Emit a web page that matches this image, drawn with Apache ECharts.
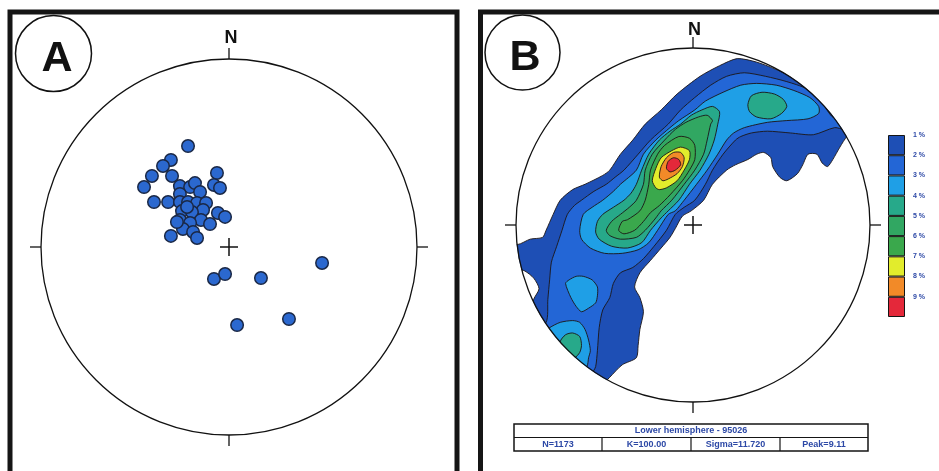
<!DOCTYPE html>
<html>
<head>
<meta charset="utf-8">
<script src="https://cdn.jsdelivr.net/npm/echarts@6/dist/echarts.min.js"></script>
<style>
html,body{margin:0;padding:0;background:#fff}
#main{width:939px;height:471px}
</style>
</head>
<body>
<div id="main"></div>
<script>
// stereonet units: primitive circle radius = 100, x east, y north

// panel A - poles
var polesA = [[-21.8,53.7],[-30.9,46.3],[-35.1,43.1],[-41.0,37.8],[-45.2,31.9],[-30.3,37.8],[-6.4,39.4],[-8.0,33.0],
  [-4.8,31.4],[-26.1,32.4],[-20.7,31.9],[-18.1,34.0],[-15.4,29.3],[-26.1,28.2],[-39.9,23.9],[-32.4,23.9],
  [-26.1,23.9],[-21.8,23.9],[-17.0,23.4],[-12.2,23.4],[-13.8,19.7],[-25.0,19.1],[-19.7,18.6],[-5.9,18.1],
  [-2.1,16.0],[-26.1,14.4],[-14.9,14.4],[-10.1,12.2],[-20.7,12.8],[-24.5,9.6],[-19.1,8.0],[-17.0,4.8],
  [-30.9,5.9],[-27.7,13.3],[-22.3,21.3],[-8.0,-17.0],[-2.1,-14.4],[17.0,-16.5],[49.5,-8.5],[31.9,-38.3],[4.3,-41.5]];

// panel B - density contours (rings per level)
var level1 = [[[-53,-92],[-75,-75],[-92,-53],[-90,-42],[-87,-36],[-90,-30],[-95,-26],[-103,-23],[-106,-9],[-99,-11],
  [-92,-8],[-85,-7],[-83,-3],[-79,6],[-75,14],[-68,20],[-61,23],[-51,28],[-47,31],[-41,40],[-34,48],[-27,57],
  [-18,65],[-9,74],[4,84],[15,90],[25,94],[36,92],[49,87],[60,81],[81,68],[92,53],[87,50],[83,44],[79,37],[76,33],
  [73,35],[70,40],[65,40],[62,34],[59,29],[53,25],[49,27],[45,33],[44,38],[40,41],[36,40],[31,37],[24,34],[19,31],
  [11,23],[6,14],[-1,8],[-6,5],[-10,-2],[-13,-7],[-18,-13],[-24,-20],[-30,-27],[-33,-35],[-30,-41],[-28,-49],
  [-30,-59],[-31,-68],[-32,-75],[-40,-79],[-47,-86],[-50,-89]]];
var level2 = [[[-83,-55],[-82,-42],[-81,-31],[-80,-21],[-77,-12],[-74,-3],[-71,6],[-67,11],[-63,14],[-56,19],[-49,23],
  [-44,27],[-39,31],[-31,40],[-24,48],[-14,57],[-7,65],[1,72],[10,79],[19,84],[29,86],[41,84],[53,81],[64,77],
  [73,69],[79,61],[86,63],[87,54],[80,55],[68,51],[55,52],[42,53],[33,52],[27,50],[24,48],[17,40],[11,31],[7,23],
  [1,14],[-5,10],[-10,6],[-15,-3],[-22,-12],[-28,-19],[-34,-24],[-41,-27],[-45,-33],[-47,-41],[-51,-48],[-53,-58],
  [-54,-71],[-55,-80],[-57,-84],[-59,-91],[-78,-77],[-92,-60]]];
var level3 = [
  [[-64,-3],[-62,6],[-57,10],[-51,14],[-45,19],[-41,23],[-32,31],[-28,40],[-21,48],[-13,55],[-8,59],[1,65],[7,70],
   [17,75],[27,79],[36,80],[47,79],[57,76],[66,72],[71,67],[71,63],[65,60],[53,59],[42,58],[29,55],[23,52],[19,48],
   [14,40],[8,31],[2,23],[-5,14],[-10,8],[-14,6],[-20,-3],[-25,-10],[-31,-14],[-40,-16],[-50,-16],[-58,-13],[-63,-8]],
  [[-72,-33],[-70,-31],[-66,-29],[-62,-29],[-57,-31],[-54,-35],[-54,-40],[-55,-44],[-59,-47],[-63,-49],[-66,-46],[-69,-41]],
  [[-81,-58],[-75,-55],[-68,-54],[-64,-55],[-61,-59],[-59,-65],[-58,-71],[-59,-75],[-60,-80],[-67,-85],[-78,-75],[-86,-62]]];
var level4 = [
  [[-55,-4],[-54,2],[-51,6],[-45,10],[-39,14],[-35,18],[-32,23],[-29,31],[-25,40],[-19,48],[-13,53],[-7,57],[-1,62],
   [5,65],[11,67],[15,64],[14,57],[12,48],[9,40],[4,31],[-2,23],[-8,14],[-14,8],[-18,4],[-24,-3],[-29,-10],[-37,-13],
   [-46,-12],[-53,-8]],
  [[31,68],[33,73],[39,75],[46,74],[51,71],[53,67],[50,63],[44,60],[36,61],[32,64]],
  [[-75,-66],[-72,-62],[-68,-61],[-64,-63],[-63,-68],[-64,-72],[-67,-75],[-72,-73]]];
var level5 = [[[-49,-3],[-46,2],[-41,6],[-36,10],[-32,14],[-28,23],[-27,31],[-23,40],[-16,48],[-10,54],[-4,58],[3,61],
  [8,62],[11,59],[10,57],[8,48],[6,40],[1,31],[-5,23],[-12,14],[-18,8],[-21,4],[-27,-3],[-32,-7],[-41,-8],[-47,-6]]];
var level6 = [[[-42,-3],[-40,2],[-37,3],[-30,8],[-27,14],[-25,23],[-24,31],[-20,40],[-16,45],[-8,50],[-2,49],[1,45],
  [1,37],[-2,31],[-6,25],[-13,17],[-19,11],[-24,7],[-28,2],[-33,-3],[-39,-5]]];
var level7 = [[[-21,21],[-23,25],[-21,32],[-18,38],[-12,42],[-7,44],[-2,42],[-2,37],[-5,31],[-9,25],[-15,21],[-19,20]]];
var level8 = [[[-19,27],[-18,33],[-15,38],[-11,41],[-7,41],[-5,38],[-6,33],[-9,29],[-14,26],[-17,25]]];
var level9 = [[[-15,32],[-14,36],[-11,38],[-8,37],[-7,34],[-10,31],[-13,30]]];

var levelColors = ['#1e4fb5','#2366d6','#1f9fe6','#27a98a','#31a762','#3aa84c','#e2ec2c','#f28a28','#e4283a'];
var legendLabels = ['1 %','2 %','3 %','4 %','5 %','6 %','7 %','8 %','9 %'];
var tableTitle = 'Lower hemisphere - 95026';
var tableCells = ['N=1173','K=100.00','Sigma=11.720','Peak=9.11'];

var contourLevels = [level1,level2,level3,level4,level5,level6,level7,level8,level9];
var contourData = [];
contourLevels.forEach(function(lv,i){
  lv.forEach(function(ring,k){ contourData.push([0,0,i,k]); });
});

function renderContour(params, api){
  var lv = api.value(2), k = api.value(3);
  var pts = contourLevels[lv][k].map(function(p){ return api.coord(p); });
  return {type:'polygon', z2: lv, shape:{points:pts, smooth:0.25},
    style:{fill:levelColors[lv], stroke:'#1c1515', lineWidth:0.9}};
}

function frameRenderer(withMask){
  return function(params, api){
    var c = api.coord([0,0]);
    var r = api.size([100,100])[0];
    var kids = [];
    if(withMask){
      // hides the contour rings where they run past the primitive circle
      kids.push({type:'circle', shape:{cx:c[0],cy:c[1],r:r+13}, style:{fill:'none',stroke:'#fff',lineWidth:25}});
    }
    kids.push({type:'circle', shape:{cx:c[0],cy:c[1],r:r}, style:{fill:'none',stroke:'#111',lineWidth:1.3}});
    [[0,-1],[0,1],[-1,0],[1,0]].forEach(function(d){
      kids.push({type:'line', shape:{x1:c[0]+d[0]*r, y1:c[1]+d[1]*r, x2:c[0]+d[0]*(r+11), y2:c[1]+d[1]*(r+11)},
        style:{stroke:'#111',lineWidth:1.3}});
    });
    kids.push({type:'line', shape:{x1:c[0]-9,y1:c[1],x2:c[0]+9,y2:c[1]}, style:{stroke:'#111',lineWidth:1.5}});
    kids.push({type:'line', shape:{x1:c[0],y1:c[1]-9,x2:c[0],y2:c[1]+9}, style:{stroke:'#111',lineWidth:1.5}});
    return {type:'group', children:kids};
  };
}

var cbSeries = levelColors.map(function(col){
  return {type:'bar', xAxisIndex:2, yAxisIndex:2, z:6, stack:'cb', data:[1], barWidth:'100%', silent:true,
    itemStyle:{color:col, borderColor:'#151515', borderWidth:1}};
});

var blue = '#2c48a6';
var font = 'Liberation Sans';
var graphics = [
  {type:'rect', shape:{x:10,y:12,width:447,height:480}, style:{fill:'none',stroke:'#151515',lineWidth:5}},
  {type:'rect', shape:{x:480.5,y:12,width:480,height:480}, style:{fill:'none',stroke:'#151515',lineWidth:5}},
  {type:'circle', shape:{cx:53.5,cy:53.5,r:38}, style:{fill:'#fff',stroke:'#111',lineWidth:1.5}},
  {type:'circle', shape:{cx:522.5,cy:52.5,r:37.5}, style:{fill:'#fff',stroke:'#111',lineWidth:1.5}},
  {type:'text', x:57, y:59, style:{text:'A', fontSize:43, fontWeight:'bold', fontFamily:font, fill:'#111', align:'center', verticalAlign:'middle'}},
  {type:'text', x:525, y:58, style:{text:'B', fontSize:43, fontWeight:'bold', fontFamily:font, fill:'#111', align:'center', verticalAlign:'middle'}},
  {type:'text', x:231, y:38, style:{text:'N', fontSize:18, fontWeight:'bold', fontFamily:font, fill:'#111', align:'center', verticalAlign:'middle'}},
  {type:'text', x:694.5, y:30, style:{text:'N', fontSize:18, fontWeight:'bold', fontFamily:font, fill:'#111', align:'center', verticalAlign:'middle'}},
  {type:'rect', shape:{x:514,y:424,width:354,height:27}, style:{fill:'#fff',stroke:'#151515',lineWidth:1.5}},
  {type:'line', shape:{x1:514,y1:437.5,x2:868,y2:437.5}, style:{stroke:'#151515',lineWidth:1.2}},
  {type:'text', x:691, y:431, style:{text:tableTitle, fontSize:9, fontWeight:'bold', fontFamily:font, fill:blue, align:'center', verticalAlign:'middle'}}
];
var colX = [514,602,691,780,868];
tableCells.forEach(function(t,i){
  if(i>0) graphics.push({type:'line', shape:{x1:colX[i],y1:437.5,x2:colX[i],y2:451}, style:{stroke:'#151515',lineWidth:1.2}});
  graphics.push({type:'text', x:(colX[i]+colX[i+1])/2, y:444.5,
    style:{text:t, fontSize:9, fontWeight:'bold', fontFamily:font, fill:blue, align:'center', verticalAlign:'middle'}});
});
graphics.forEach(function(g){ g.z = 100; g.silent = true; });

var hiddenVal = {type:'value', min:-100, max:100, show:false};

var chart = echarts.init(document.getElementById('main'), null, {renderer:'canvas'});
chart.setOption({
  animation:false,
  backgroundColor:'#fff',
  grid:[
    {left:41, top:59, width:376, height:376},
    {left:516, top:48, width:354, height:354},
    {left:888, top:135, width:17, height:182}
  ],
  xAxis:[
    Object.assign({gridIndex:0}, hiddenVal),
    Object.assign({gridIndex:1}, hiddenVal),
    {gridIndex:2, type:'category', data:['density'], show:false}
  ],
  yAxis:[
    Object.assign({gridIndex:0}, hiddenVal),
    Object.assign({gridIndex:1}, hiddenVal),
    {gridIndex:2, type:'value', min:0, max:9, interval:1, inverse:true, position:'right', z:6,
      axisLine:{show:false}, axisTick:{show:false}, splitLine:{show:false},
      axisLabel:{margin:8, color:blue, fontSize:7, fontWeight:'bold', fontFamily:font,
        formatter:function(v){ return v < 9 ? legendLabels[v] : ''; }}}
  ],
  graphic:graphics,
  series:[
    {type:'custom', xAxisIndex:1, yAxisIndex:1, z:2, silent:true, data:contourData, renderItem:renderContour},
    {type:'custom', xAxisIndex:1, yAxisIndex:1, z:3, silent:true, data:[[0,0]], renderItem:frameRenderer(true)},
    {type:'custom', xAxisIndex:0, yAxisIndex:0, z:3, silent:true, data:[[0,0]], renderItem:frameRenderer(false)},
    {type:'scatter', xAxisIndex:0, yAxisIndex:0, z:4, data:polesA, symbolSize:12.5, silent:true,
      itemStyle:{color:'#2b68cf', borderColor:'#1a2846', borderWidth:1.5, opacity:1}}
  ].concat(cbSeries)
});
</script>
</body>
</html>
